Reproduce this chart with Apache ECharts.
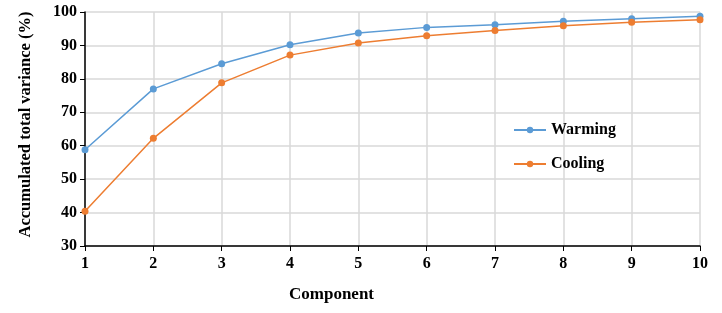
<!DOCTYPE html>
<html>
<head>
<meta charset="utf-8">
<script src="https://cdn.jsdelivr.net/npm/echarts@6/dist/echarts.min.js"></script>
<style>
  html, body { margin: 0; padding: 0; background: #fff; }
  #main { width: 722px; height: 313px; }
</style>
</head>
<body>
<div id="main"></div>
<script>
var components = [1, 2, 3, 4, 5, 6, 7, 8, 9, 10];
var warming = [58.8, 77.0, 84.5, 90.2, 93.7, 95.4, 96.2, 97.2, 98.0, 98.7];
var cooling = [40.4, 62.2, 78.8, 87.1, 90.7, 92.9, 94.5, 95.9, 96.9, 97.7];

function pairs(vals) {
    return components.map(function (c, i) { return [c, vals[i]]; });
}

var fontFam = '"Liberation Serif", "Times New Roman", serif';

var chart = echarts.init(document.getElementById('main'));
var option = {
    backgroundColor: '#fff',
    textStyle: { fontFamily: fontFam },
    grid: { left: 85, right: 22, top: 12, bottom: 67 },
    legend: {
        orient: 'vertical',
        left: 508,
        top: 117,
        itemGap: 18,
        itemWidth: 32,
        itemHeight: 8,
        textStyle: { fontFamily: fontFam, fontWeight: 'bold', fontSize: 16, color: '#000' },
        data: ['Warming', 'Cooling']
    },
    xAxis: {
        type: 'value',
        min: 1,
        max: 10,
        interval: 1,
        name: 'Component',
        nameLocation: 'middle',
        nameGap: 40,
        nameTextStyle: { fontFamily: fontFam, fontWeight: 'bold', fontSize: 17, color: '#000', padding: [0, 122, 0, 0] },
        axisLine: { onZero: false, lineStyle: { color: '#000', width: 1.5 } },
        axisTick: { show: true, length: 5, lineStyle: { color: '#000' } },
        axisLabel: { fontFamily: fontFam, fontWeight: 'bold', fontSize: 16, color: '#000', margin: 10 },
        splitLine: { show: true, lineStyle: { color: '#d9d9d9', width: 1.5 } }
    },
    yAxis: {
        type: 'value',
        min: 30,
        max: 100,
        interval: 10,
        name: 'Accumulated total variance (%)',
        nameLocation: 'middle',
        nameGap: 51,
        nameTextStyle: { fontFamily: fontFam, fontWeight: 'bold', fontSize: 16.5, color: '#000', padding: [0, 0, 0, 9] },
        axisLine: { show: true, lineStyle: { color: '#000', width: 1.5 } },
        axisTick: { show: true, length: 5, lineStyle: { color: '#000' } },
        axisLabel: { fontFamily: fontFam, fontWeight: 'bold', fontSize: 16, color: '#000', margin: 8 },
        splitLine: { show: true, lineStyle: { color: '#d9d9d9', width: 1.5 } }
    },
    series: [
        {
            name: 'Warming',
            type: 'line',
            data: pairs(warming),
            symbol: 'circle',
            symbolSize: 7,
            color: '#5b9bd5',
            lineStyle: { width: 1.5 },
            animation: false
        },
        {
            name: 'Cooling',
            type: 'line',
            data: pairs(cooling),
            symbol: 'circle',
            symbolSize: 7,
            color: '#ed7d31',
            lineStyle: { width: 1.5 },
            animation: false
        }
    ]
};
chart.setOption(option);
</script>
</body>
</html>
